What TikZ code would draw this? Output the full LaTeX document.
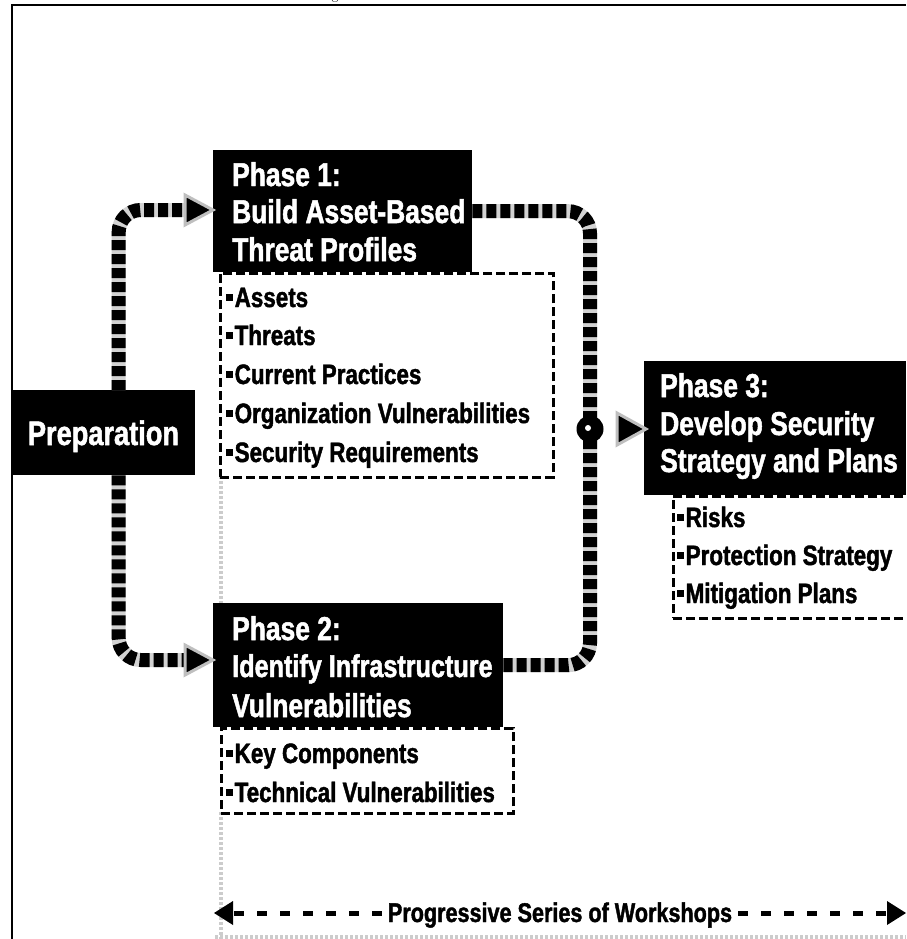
\documentclass[tikz,border=0pt]{standalone}
\usepackage{fontspec}
\newfontfamily\cond[FakeStretch=0.8,FakeBold=1.5]{Liberation Sans}
\usetikzlibrary{shapes.geometric}
\newcommand\sqb{\rule[6pt]{7pt}{7pt}\kern1.5pt}
\tikzset{
 blackbox/.style={fill=black, draw=none, anchor=north west, inner sep=0pt},
 listbox/.style={draw=black, line width=2.5pt, dash pattern=on 9pt off 4pt, anchor=north west, inner sep=0pt},
 head/.style={text=white, anchor=base west, inner sep=0pt, font=\cond\bfseries\fontsize{33}{37}\selectfont},
 item/.style={text=black, anchor=base west, inner sep=0pt, font=\cond\bfseries\fontsize{28}{32}\selectfont},
 flow/.style={line width=14pt, black, dash pattern=on 10pt off 4pt, rounded corners=22pt,
   preaction={draw, gray!35, solid, line width=14pt}},
 tri/.style={fill=black, draw=gray!50, line width=3pt, line join=miter},
 graydots/.style={gray!40, line width=4pt, dash pattern=on 3pt off 2pt},
 wkline/.style={black, line width=5pt, dash pattern=on 10pt off 13pt},
}
\begin{document}
\begin{tikzpicture}[x=1pt,y=-1pt]
\useasboundingbox (0,0) rectangle (906,939);
\fill[white] (0,0) rectangle (906,939);
% frame and clipped caption fragment
\draw[line width=2pt] (12,939) -- (12,5) -- (906,5);
\node[anchor=base, inner sep=0pt, font=\fontsize{14}{14}\selectfont] (cap) at (335,0) {g};
% gray dotted guide lines
\draw[graydots] (221,476) -- (221,603);
\draw[graydots] (221,812) -- (221,939);
\draw[graydots] (215,937) -- (906,937);
% list boxes
\node[listbox, minimum width=333pt, minimum height=204pt] (p1l) at (219,272) {};
\node[listbox, minimum width=292pt, minimum height=85pt] (p2l) at (220,727) {};
\node[listbox, minimum width=262pt, minimum height=122pt] (p3l) at (672,495) {};
% black boxes
\node[blackbox, minimum width=259pt, minimum height=122pt] (p1) at (213,150) {};
\node[blackbox, minimum width=183pt, minimum height=85pt] (prep) at (12,390) {};
\node[blackbox, minimum width=290pt, minimum height=124pt] (p2) at (213,603) {};
\node[blackbox, minimum width=262pt, minimum height=134pt] (p3) at (644,361) {};
% texts phase 1
\node[head] (p1a) at (232,186) {Phase 1:};
\node[head] (p1b) at (232,223) {Build Asset-Based};
\node[head] (p1c) at (232,261) {Threat Profiles};
\node[item] (i11) at (226,307) {\sqb Assets};
\node[item] (i12) at (226,345) {\sqb Threats};
\node[item] (i13) at (226,384) {\sqb Current Practices};
\node[item] (i14) at (226,423) {\sqb Organization Vulnerabilities};
\node[item] (i15) at (226,462) {\sqb Security Requirements};
% preparation
\node[head, anchor=base, font=\cond\bfseries\fontsize{34}{38}\selectfont] (prept) at (103.5,445) {Preparation};
% phase 2
\node[head] (p2a) at (232,640) {Phase 2:};
\node[head, font=\cond\bfseries\fontsize{31.5}{37}\selectfont] (p2b) at (232,677) {Identify Infrastructure};
\node[head] (p2c) at (232,717) {Vulnerabilities};
\node[item] (i21) at (226,763) {\sqb Key Components};
\node[item] (i22) at (226,802) {\sqb Technical Vulnerabilities};
% phase 3
\node[head] (p3a) at (660,397) {Phase 3:};
\node[head] (p3b) at (660,435) {Develop Security};
\node[head] (p3c) at (660,472) {Strategy and Plans};
\node[item] (i31) at (677,527) {\sqb Risks};
\node[item] (i32) at (677,565) {\sqb Protection Strategy};
\node[item] (i33) at (677,603) {\sqb Mitigation Plans};
% arrow tails
\coordinate (a1) at (185,210);
\coordinate (a2) at (185,660);
\coordinate (a3) at (617,429);
\coordinate (jct) at (590,429);
% connectors
\draw[flow] ([xshift=15pt]prep.north) |- (a1);
\draw[flow] ([xshift=15pt]prep.south) |- (a2);
\draw[flow] (p1.east) -| (jct) |- (p2.east);
% junction
\node[circle, fill=black, minimum size=27pt, inner sep=0pt] (jn) at (jct) {};
\fill[white] ([xshift=-2pt,yshift=1pt]jn.center) circle (3pt);
% arrowheads
\filldraw[tri] (a1) -- ++(0,-15) -- ++(28,15) -- ++(-28,15) -- cycle;
\filldraw[tri] (a2) -- ++(0,-15) -- ++(28,15) -- ++(-28,15) -- cycle;
\filldraw[tri] (a3) -- ++(0,-16) -- ++(29,16) -- ++(-29,16) -- cycle;
% bottom workshops arrow
\node[item, anchor=base, font=\cond\bfseries\fontsize{27}{30}\selectfont, inner xsep=6pt] (wk) at (560,922) {Progressive Series of Workshops};
\coordinate (wl) at (233,913);
\coordinate (wr) at (887,913);
\draw[wkline] (wk.west |- wl) -- (wl);
\draw[wkline] (wk.east |- wr) -- (wr);
\fill[black] (wl) -- ++(0,-12) -- ++(-19,12) -- ++(19,12) -- cycle;
\fill[black] (wr) -- ++(0,-12) -- ++(19,12) -- ++(-19,12) -- cycle;
\end{tikzpicture}
\end{document}
